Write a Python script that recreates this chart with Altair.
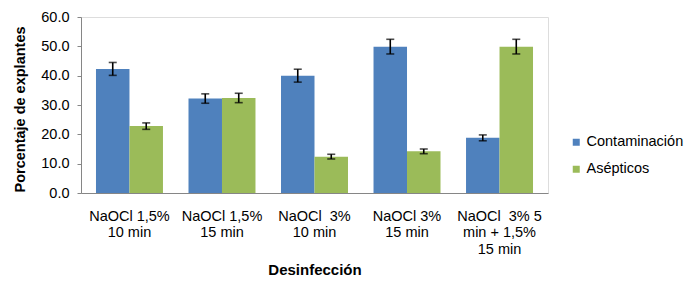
import altair as alt
import pandas as pd

categories = [
    "NaOCl 1,5%|10 min",
    "NaOCl 1,5%|15 min",
    "NaOCl\u00a0 3%|10 min",
    "NaOCl 3%|15 min",
    "NaOCl\u00a0 3% 5|min + 1,5%|15 min",
]
series = ["Contaminación", "Asépticos"]
contaminacion = [42.3, 32.2, 40.0, 49.9, 18.8]
contaminacion_err = [2.2, 1.6, 2.2, 2.5, 1.0]
asepticos = [22.8, 32.4, 12.4, 14.2, 49.9]
asepticos_err = [1.1, 1.6, 0.8, 0.8, 2.5]
y_ticks = [0, 10, 20, 30, 40, 50, 60]
colors = ["#4F81BD", "#9BBB59"]

rows = []
for i, c in enumerate(categories):
    rows.append({"cat": c, "serie": series[0], "val": contaminacion[i], "err": contaminacion_err[i]})
    rows.append({"cat": c, "serie": series[1], "val": asepticos[i], "err": asepticos_err[i]})
df = pd.DataFrame(rows)
df["lo"] = df["val"] - df["err"]
df["hi"] = df["val"] + df["err"]

FONT = "Liberation Sans"

x_axis = alt.Axis(
    title="Desinfección",
    labelExpr="split(datum.label, '|')",
    labelAngle=0,
    labelFont=FONT,
    labelFontSize=14.5,
    labelColor="#000000",
    labelLineHeight=16.5,
    labelPadding=16,
    labelLimit=200,
    labelOverlap=False,
    ticks=False,
    tickSize=0,
    domainColor="#868686",
    domainWidth=1,
    titleFont=FONT,
    titleFontSize=15,
    titleFontWeight="bold",
    titleColor="#000000",
    titleY=76,
    titleBaseline="middle",
)
y_axis = alt.Axis(
    title="Porcentaje de explantes",
    values=y_ticks,
    tickCount=7,
    format=".1f",
    grid=False,
    labelOverlap=False,
    labelBound=False,
    labelFont=FONT,
    labelFontSize=14.5,
    labelColor="#000000",
    labelPadding=8,
    tickSize=4,
    tickColor="#868686",
    domainColor="#868686",
    titleFont=FONT,
    titleFontSize=14.5,
    titleFontWeight="bold",
    titleColor="#000000",
    titleX=-61,
    titleY=92,
    titleAngle=-90,
    titleAlign="center",
    titleBaseline="middle",
)

x_scale = alt.Scale(paddingInner=0.276, paddingOuter=0.162)
y_scale = alt.Scale(domain=[0, 60], nice=False)
x_enc = alt.X("cat:N", sort=categories, scale=x_scale, axis=x_axis)
xoff = alt.XOffset("serie:N", sort=series, scale=alt.Scale(paddingInner=0, paddingOuter=0))

bars = alt.Chart(df).mark_bar().encode(
    x=x_enc,
    xOffset=xoff,
    y=alt.Y("val:Q", scale=y_scale, axis=y_axis),
    color=alt.Color(
        "serie:N",
        sort=series,
        scale=alt.Scale(domain=series, range=colors),
        legend=alt.Legend(
            title=None,
            orient="none",
            legendX=488,
            legendY=118,
            symbolType="square",
            symbolSize=49,
            symbolStrokeWidth=0,
            labelFont=FONT,
            labelFontSize=14.5,
            labelColor="#000000",
            labelOffset=3,
            rowPadding=12,
            padding=0,
        ),
    ),
)

rules = alt.Chart(df).mark_rule(color="#000000", strokeWidth=1.6).encode(
    x=x_enc,
    xOffset=xoff,
    y=alt.Y("lo:Q", scale=y_scale, axis=y_axis),
    y2="hi:Q",
)
caps_hi = alt.Chart(df).mark_tick(color="#000000", thickness=1.6, size=8, orient="horizontal").encode(
    x=x_enc,
    xOffset=xoff,
    y=alt.Y("hi:Q", scale=y_scale, axis=y_axis),
)
caps_lo = alt.Chart(df).mark_tick(color="#000000", thickness=1.6, size=8, orient="horizontal").encode(
    x=x_enc,
    xOffset=xoff,
    y=alt.Y("lo:Q", scale=y_scale, axis=y_axis),
)

chart = (
    alt.layer(bars, rules, caps_hi, caps_lo)
    .properties(
        width=467,
        height=176,
        autosize=alt.AutoSizeParams(type="none"),
        padding={"left": 73, "top": 9, "right": 143, "bottom": 84},
    )
    .configure_view(strokeWidth=0, stroke=None)
    .configure(background="#FFFFFF")
)

chart.save("out.html", embed_options={"renderer": "svg", "actions": False})
